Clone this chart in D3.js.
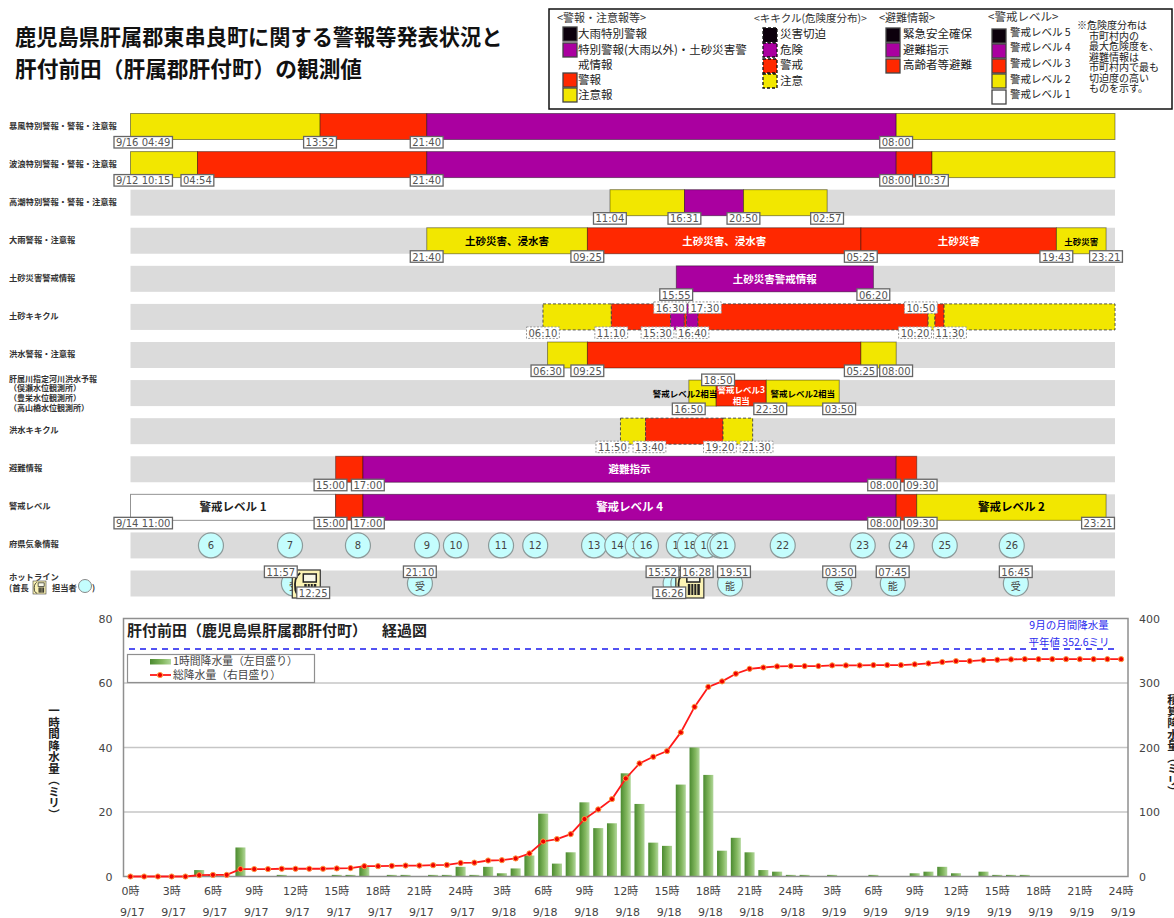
<!DOCTYPE html>
<html lang="ja">
<head>
<meta charset="utf-8">
<script src="https://cdn.jsdelivr.net/npm/d3@7"></script>
<style>
  html, body { margin: 0; padding: 0; background: #fff; overflow: hidden; }
  svg { display: block; font-family: "Noto Sans CJK JP", "Noto Sans", sans-serif; }
  .num { font-family: "DejaVu Sans", sans-serif; }
</style>
</head>
<body>
<div id="canvas"></div>
<script>
"use strict"

let svgWidth = 1174;
let svgHeight = 918;

/* Timeline rows */
const rowNames = ["暴風", "波浪", "高潮", "大雨", "土砂情報", "土砂キキクル", "洪水", "河川", "洪水キキクル", "避難", "レベル", "府県", "ホットライン"];

const rowLabels = [
    ["暴風特別警報・警報・注意報"],
    ["波浪特別警報・警報・注意報"],
    ["高潮特別警報・警報・注意報"],
    ["大雨警報・注意報"],
    ["土砂災害警戒情報"],
    ["土砂キキクル"],
    ["洪水警報・注意報"],
    ["肝属川指定河川洪水予報", "（俣瀬水位観測所）", "（豊栄水位観測所）", "（高山橋水位観測所）"],
    ["洪水キキクル"],
    ["避難情報"],
    ["警戒レベル"],
    ["府県気象情報"]
];

/* [start, end, class, text] */
const stormSegs = [
    ["9/16 04:49", "9/17 13:52", "y"],
    ["9/17 13:52", "9/17 21:40", "r"],
    ["9/17 21:40", "9/19 08:00", "p"],
    ["9/19 08:00", "9/20 00:00", "y"]
];
const waveSegs = [
    ["9/12 10:15", "9/17 04:54", "y"],
    ["9/17 04:54", "9/17 21:40", "r"],
    ["9/17 21:40", "9/19 08:00", "p"],
    ["9/19 08:00", "9/19 10:37", "r"],
    ["9/19 10:37", "9/20 00:00", "y"]
];
const surgeSegs = [
    ["9/18 11:04", "9/18 16:31", "y"],
    ["9/18 16:31", "9/18 20:50", "p"],
    ["9/18 20:50", "9/19 02:57", "y"]
];
const heavyRainSegs = [
    ["9/17 21:40", "9/18 09:25", "y", "土砂災害、浸水害"],
    ["9/18 09:25", "9/19 05:25", "r", "土砂災害、浸水害"],
    ["9/19 05:25", "9/19 19:43", "r", "土砂災害"],
    ["9/19 19:43", "9/19 23:21", "y", "土砂災害"]
];
const landslideSegs = [
    ["9/18 15:55", "9/19 06:20", "p", "土砂災害警戒情報"]
];
const landKikikuruSegs = [
    ["9/18 06:10", "9/18 11:10", "y"],
    ["9/18 11:10", "9/18 15:30", "r"],
    ["9/18 15:30", "9/18 16:30", "p"],
    ["9/18 16:30", "9/18 16:40", "r"],
    ["9/18 16:40", "9/18 17:30", "p"],
    ["9/18 17:30", "9/19 10:20", "r"],
    ["9/19 10:20", "9/19 10:50", "y"],
    ["9/19 10:50", "9/19 11:30", "r"],
    ["9/19 11:30", "9/20 00:00", "y"]
];
const floodSegs = [
    ["9/18 06:30", "9/18 09:25", "y"],
    ["9/18 09:25", "9/19 05:25", "r"],
    ["9/19 05:25", "9/19 08:00", "y"]
];
const riverSegs = [
    ["9/18 16:50", "9/18 18:50", "y", "警戒レベル2相当"],
    ["9/18 18:50", "9/18 22:30", "r", "警戒レベル3|相当"],
    ["9/18 22:30", "9/19 03:50", "y", "警戒レベル2相当"]
];
const floodKikikuruSegs = [
    ["9/18 11:50", "9/18 13:40", "y"],
    ["9/18 13:40", "9/18 19:20", "r"],
    ["9/18 19:20", "9/18 21:30", "y"]
];
const evacSegs = [
    ["9/17 15:00", "9/17 17:00", "r"],
    ["9/17 17:00", "9/19 08:00", "p", "避難指示"],
    ["9/19 08:00", "9/19 09:30", "r"]
];
const levelSegs = [
    ["9/14 11:00", "9/17 15:00", "w", "警戒レベル 1"],
    ["9/17 15:00", "9/17 17:00", "r"],
    ["9/17 17:00", "9/19 08:00", "p", "警戒レベル 4"],
    ["9/19 08:00", "9/19 09:30", "r"],
    ["9/19 09:30", "9/19 23:21", "y", "警戒レベル 2"]
];
const rowSegs = [stormSegs, waveSegs, surgeSegs, heavyRainSegs, landslideSegs, landKikikuruSegs, floodSegs, riverSegs, floodKikikuruSegs, evacSegs, levelSegs];

/* 府県気象情報 */
const infoNumbers = [6, 7, 8, 9, 10, 11, 12, 13, 14, 15, 16, 17, 18, 19, 20, 21, 22, 23, 24, 25, 26];
const infoTimes = ["9/17 05:53", "9/17 11:40", "9/17 16:38", "9/17 21:41", "9/17 23:48", "9/18 03:06", "9/18 05:36",
    "9/18 09:54", "9/18 11:36", "9/18 13:06", "9/18 13:42", "9/18 16:06", "9/18 16:54", "9/18 18:09", "9/18 19:06",
    "9/18 19:18", "9/18 23:42", "9/19 05:33", "9/19 08:24", "9/19 11:33", "9/19 16:27"];

/* ホットライン */
const hotCircleTimes = ["9/17 11:57", "9/17 21:10", "9/18 15:52", "9/18 16:26", "9/18 19:51", "9/19 03:50", "9/19 07:45", "9/19 16:45"];
const hotCircleText = ["受", "受", "", "", "能", "受", "能", "受"];
const hotIconTimes = ["9/17 12:25", "9/18 16:28"];

/* Rainfall, hour 0 = 9/17 0時 */
const rainHourly = [0, 0, 0, 0, 0, 2, 0.5, 0, 9, 0,
    0, 0.5, 0, 0, 0, 0.5, 0.5, 3, 0, 0.5,
    0.5, 0, 0.5, 0.5, 3, 0.5, 3, 1, 2.5, 6.5,
    19.5, 4, 7.5, 23, 15, 16.5, 32, 22.5, 10.5, 9.5,
    28.5, 40, 31.5, 8, 12, 7.5, 2, 1.5, 0.5, 0.5,
    0, 0.5, 0, 0, 0.5, 0, 0, 1, 1.5, 3,
    1, 0, 1.5, 0.5, 0.5, 0.5, 0, 0, 0, 0, 0, 0, 0];
const rainTotal = [0, 0, 0, 0, 0, 2, 2.5, 2.5, 11.5, 11.5,
    11.5, 12, 12, 12, 12, 12.5, 13, 16, 16, 16.5,
    17, 17, 17.5, 18, 21, 21.5, 24.8, 25.3, 28, 35.7,
    54.3, 58, 65.7, 89, 104, 120, 152, 175.3, 185.6, 194.4,
    223.4, 263, 294, 302.5, 314.4, 322, 324, 325.7, 326.3, 326.3,
    326.3, 327.3, 327.3, 327.3, 327.8, 327.8, 327.8, 329, 330.4, 332.5,
    334, 334, 335.6, 336, 336.6, 337, 337, 337, 337, 337, 337, 337, 337];
const monthlyNormal = 352.6;
const tickHours = d3.range(0, 73, 3);
const tickHourText = ["0時", "3時", "6時", "9時", "12時", "15時", "18時", "21時", "24時",
    "3時", "6時", "9時", "12時", "15時", "18時", "21時", "24時",
    "3時", "6時", "9時", "12時", "15時", "18時", "21時", "24時"];
const tickDateText = ["9/17", "9/17", "9/17", "9/17", "9/17", "9/17", "9/17", "9/17", "9/17",
    "9/18", "9/18", "9/18", "9/18", "9/18", "9/18", "9/18", "9/18",
    "9/19", "9/19", "9/19", "9/19", "9/19", "9/19", "9/19", "9/19"];
const leftTicks = [0, 20, 40, 60, 80];
const rightTicks = [0, 100, 200, 300, 400];

/* Legend text */
const legendWarn = ["大雨特別警報", "特別警報(大雨以外)・土砂災害警", "警報", "注意報"];
const legendKiki = ["災害切迫", "危険", "警戒", "注意"];
const legendEvac = ["緊急安全確保", "避難指示", "高齢者等避難"];
const legendLevel = ["警戒レベル 5", "警戒レベル 4", "警戒レベル 3", "警戒レベル 2", "警戒レベル 1"];
const legendNote = ["※危険度分布は", "市町村内の", "最大危険度を、", "避難情報は", "市町村内で最も", "切迫度の高い", "ものを示す。"];

/* Colours */
const classColor = {k: "#0c000c", p: "#aa00a0", r: "#ff2800", y: "#f2e700", w: "#ffffff"};
const classText = {p: "#ffffff", r: "#ffffff", y: "#000000", w: "#222222"};

/* Label nudges so time boxes do not sit on each other: "row|time": [dx, up] */
const labelNudge = {
    "土砂キキクル|9/18 15:30": [-13, 0],
    "土砂キキクル|9/18 16:30": [-14, 1],
    "土砂キキクル|9/18 16:40": [6, 0],
    "土砂キキクル|9/18 17:30": [7, 1],
    "土砂キキクル|9/19 10:20": [-13, 0],
    "土砂キキクル|9/19 10:50": [-14, 1],
    "土砂キキクル|9/19 11:30": [6, 0],
    "河川|9/18 18:50": [2, 1],
    "河川|9/18 22:30": [4, 0],
    "洪水キキクル|9/18 11:50": [-8, 0],
    "洪水キキクル|9/18 13:40": [4, 0],
    "洪水キキクル|9/18 19:20": [-3, 0],
    "洪水キキクル|9/18 21:30": [4, 0],
    "避難|9/17 15:00": [-5, 0],
    "避難|9/17 17:00": [5, 0],
    "避難|9/19 08:00": [-12, 0],
    "避難|9/19 09:30": [4, 0],
    "レベル|9/17 15:00": [-5, 0],
    "レベル|9/17 17:00": [5, 0],
    "レベル|9/19 08:00": [-12, 0],
    "レベル|9/19 09:30": [4, 0],
    "レベル|9/19 23:21": [-8, 0]
};

let svg = d3.select("#canvas")
    .append("svg")
    .attr("width", svgWidth)
    .attr("height", svgHeight);

/* Title */
svg.append("text").attr("x", 15).attr("y", 45).attr("font-size", 21.2).attr("font-weight", 700).attr("fill", "#111")
    .text("鹿児島県肝属郡東串良町に関する警報等発表状況と");
svg.append("text").attr("x", 15).attr("y", 77).attr("font-size", 21.7).attr("font-weight", 700).attr("fill", "#111")
    .text("肝付前田（肝属郡肝付町）の観測値");

/* Legend box */
svg.append("rect")
    .attr("x", 549).attr("y", 9).attr("width", 623).attr("height", 100)
    .attr("fill", "#fff").attr("stroke", "#111").attr("stroke-width", 1.5);

function legendHead(x, y, label, size) {
    svg.append("text").attr("x", x).attr("y", y).attr("font-size", size).attr("fill", "#333").text(label);
}
function legendItem(sx, sy, tx, ty, label, cls, dashed, size) {
    svg.append("rect").attr("x", sx).attr("y", sy - 7).attr("width", 14).attr("height", 14)
        .attr("fill", classColor[cls]).attr("stroke", dashed ? "#111" : "#444").attr("stroke-width", 1.3)
        .attr("stroke-dasharray", dashed ? "3,2" : null);
    svg.append("text").attr("x", tx).attr("y", ty).attr("font-size", size || 11.5).attr("fill", "#222").text(label);
}
legendHead(557, 22, "<警報・注意報等>", 11);
legendItem(563, 34, 578, 38, legendWarn[0], "k");
legendItem(563, 50, 578, 54, legendWarn[1], "p");
svg.append("text").attr("x", 578).attr("y", 69).attr("font-size", 11.5).attr("fill", "#222").text("戒情報");
legendItem(563, 80, 578, 84, legendWarn[2], "r");
legendItem(563, 95, 578, 99, legendWarn[3], "y");
legendHead(754, 22, "<キキクル(危険度分布)>", 10.5);
legendItem(763, 35, 780, 38, legendKiki[0], "k", true);
legendItem(763, 50, 780, 54, legendKiki[1], "p", true);
legendItem(763, 66, 780, 69, legendKiki[2], "r", true);
legendItem(763, 81, 780, 85, legendKiki[3], "y", true);
legendHead(879, 22, "<避難情報>", 11);
legendItem(886, 35, 903, 38, legendEvac[0], "k");
legendItem(886, 50, 903, 54, legendEvac[1], "p");
legendItem(886, 66, 903, 69, legendEvac[2], "r");
legendHead(988, 21, "<警戒レベル>", 11.5);
legendItem(992, 36, 1010, 36, legendLevel[0], "k", false, 10.5);
legendItem(992, 51, 1010, 51, legendLevel[1], "p", false, 10.5);
legendItem(992, 66, 1010, 67, legendLevel[2], "r", false, 10.5);
legendItem(992, 81, 1010, 83, legendLevel[3], "y", false, 10.5);
legendItem(992, 97, 1010, 98, legendLevel[4], "w", false, 10.5);
legendNote.forEach(function (line, i) {
    svg.append("text")
        .attr("x", i == 0 ? 1077 : 1089)
        .attr("y", 29 + i * 10.5)
        .attr("font-size", 10)
        .attr("fill", "#222")
        .text(line);
});

/* Timeline scales */
const parseTime = d3.timeParse("%m/%d %H:%M");
const formatLong = d3.timeFormat("%-m/%-d %H:%M");
const formatShort = d3.timeFormat("%H:%M");
const domainStart = parseTime("9/17 00:00");
const domainEnd = parseTime("9/20 00:00");

let timeScale = d3.scaleTime()
    .domain([domainStart, domainEnd])
    .range([130.5, 1115])
    .clamp(true);

let rowScale = d3.scalePoint()
    .domain(rowNames)
    .range([113.5, 570.5]);

let rowHeight = 26;

/* Grey row backgrounds */
svg.selectAll("rect.rowBg")
    .data(rowNames)
    .join("rect")
    .attr("class", "rowBg")
    .attr("x", timeScale.range()[0])
    .attr("y", function (d) { return rowScale(d); })
    .attr("width", timeScale.range()[1] - timeScale.range()[0])
    .attr("height", rowHeight)
    .attr("fill", "#dbdbdb");

/* Row titles */
rowLabels.forEach(function (lines, i) {
    let cy = rowScale(rowNames[i]) + rowHeight / 2;
    lines.forEach(function (line, j) {
        svg.append("text")
            .attr("x", 9)
            .attr("y", lines.length > 1 ? cy - 11.5 + j * 9.7 : cy + 2)
            .attr("font-size", lines.length > 1 ? 8 : 8.3)
            .attr("font-weight", 700)
            .attr("fill", "#333")
            .text(line);
    });
});
svg.append("text").attr("x", 9).attr("y", 580).attr("font-size", 8.3).attr("font-weight", 700).attr("fill", "#333").text("ホットライン");
svg.append("text").attr("x", 9).attr("y", 591).attr("font-size", 8.3).attr("font-weight", 700).attr("fill", "#333").text("(首長");
svg.append("text").attr("x", 52).attr("y", 591).attr("font-size", 8.3).attr("font-weight", 700).attr("fill", "#333").text("担当者");
svg.append("circle").attr("cx", 85).attr("cy", 586).attr("r", 6.5).attr("fill", "#c4fdfd").attr("stroke", "#888");
svg.append("text").attr("x", 92).attr("y", 591).attr("font-size", 8.3).attr("font-weight", 700).attr("fill", "#333").text(")");

/* Head-of-town phone icon */
function drawIcon(g, x, y, w, h) {
    let ig = g.append("g").attr("transform", "translate(" + x + "," + y + ") scale(" + w / 28 + "," + h / 28 + ")");
    ig.append("rect").attr("width", 28).attr("height", 28).attr("fill", "#fbf3b4").attr("stroke", "#333").attr("stroke-width", 1.2);
    ig.append("path").attr("d", "M8 3 C3 6 2 12 3 20 C4 24 6 26 9 26").attr("fill", "none").attr("stroke", "#222").attr("stroke-width", 1.8);
    ig.append("rect").attr("x", 11).attr("y", 4).attr("width", 13).attr("height", 8).attr("fill", "#f8f8e8").attr("stroke", "#222").attr("stroke-width", 1.5);
    ig.append("rect").attr("x", 12).attr("y", 14).attr("width", 12).attr("height", 11).attr("fill", "#222");
    [15, 18, 21].forEach(function (bx) {
        ig.append("line").attr("x1", bx).attr("x2", bx).attr("y1", 14).attr("y2", 25).attr("stroke", "#fbf3b4");
    });
}
drawIcon(svg, 33, 581, 13, 13);

/* Bars: a group per timeline row, then time boxes on top */
let labelLayer = [];

rowSegs.forEach(function (segs, i) {
    let name = rowNames[i];
    let top = rowScale(name);
    let dashed = name.indexOf("キキクル") >= 0;

    svg.selectAll("rect.seg" + i)
        .data(segs)
        .join("rect")
        .attr("class", "seg" + i)
        .attr("x", function (d) { return timeScale(parseTime(d[0])); })
        .attr("y", top)
        .attr("width", function (d) { return timeScale(parseTime(d[1])) - timeScale(parseTime(d[0])); })
        .attr("height", rowHeight)
        .attr("fill", function (d) { return classColor[d[2]]; })
        .attr("stroke", dashed ? "#444" : "#000")
        .attr("stroke-opacity", dashed ? 0.9 : 0.4)
        .attr("stroke-dasharray", dashed ? "3,2" : null);

    /* text inside a bar */
    segs.filter(function (d) { return d[3]; }).forEach(function (d) {
        let x0 = timeScale(parseTime(d[0]));
        let x1 = timeScale(parseTime(d[1]));
        let small = name == "河川" || (name == "大雨" && x1 - x0 < 60);
        let lines = d[3].split("|");
        let onRiverLeft = name == "河川" && parseTime(d[0]).getTime() == parseTime("9/18 16:50").getTime();
        lines.forEach(function (line, j) {
            svg.append("text")
                .attr("x", onRiverLeft ? x1 + 1 : (x0 + x1) / 2)
                .attr("y", top + rowHeight / 2 + (lines.length > 1 ? j * 10.5 : 4))
                .attr("text-anchor", onRiverLeft ? "end" : "middle")
                .attr("font-size", small ? 8.5 : (name == "大雨" || name == "避難" || name == "土砂情報" ? 10.5 : 11.5))
                .attr("font-weight", 700)
                .attr("fill", classText[d[2]])
                .text(line);
        });
    });

    /* a time box at every start and at the final end, unless the bar runs off the chart */
    let times = segs.map(function (d) { return d[0]; });
    let last = segs[segs.length - 1][1];
    if (parseTime(last) < domainEnd) {
        times.push(last);
    }
    times.forEach(function (t) {
        let nudge = labelNudge[name + "|" + t] || [0, 0];
        labelLayer.push({
            time: t,
            dx: nudge[0],
            y: nudge[1] ? top - (name == "河川" ? 6 : 2) : top + rowHeight - 3,
            dashed: dashed
        });
    });
});

/* 府県気象情報 circles: each one drawn with its number, later ones cover earlier ones */
let infoCy = rowScale("府県") + rowHeight / 2;
let infoMarks = svg.selectAll("g.info")
    .data(infoTimes)
    .join("g")
    .attr("class", "info");
infoMarks.append("circle")
    .attr("cx", function (d) { return timeScale(parseTime(d)); })
    .attr("cy", infoCy)
    .attr("r", 12.5)
    .attr("fill", "#c4fdfd")
    .attr("stroke", "#8d9a9a")
    .attr("stroke-width", 1.2);
infoMarks.append("text")
    .attr("class", "num")
    .attr("x", function (d) { return timeScale(parseTime(d)); })
    .attr("y", infoCy + 4)
    .attr("text-anchor", "middle")
    .attr("font-size", 10)
    .attr("fill", "#444")
    .text(function (d, i) { return infoNumbers[i]; });

/* ホットライン circles, icons and boxes */
let hotY = rowScale("ホットライン") + 13;
let hotMarks = svg.selectAll("g.hot")
    .data(hotCircleTimes)
    .join("g")
    .attr("class", "hot");
hotMarks.append("circle")
    .attr("cx", function (d) { return timeScale(parseTime(d)); })
    .attr("cy", hotY)
    .attr("r", 12.5)
    .attr("fill", "#c4fdfd")
    .attr("stroke", "#8d9a9a")
    .attr("stroke-width", 1.2);
hotMarks.append("text")
    .attr("x", function (d) { return timeScale(parseTime(d)); })
    .attr("y", hotY + 6)
    .attr("text-anchor", "middle")
    .attr("font-size", 10)
    .attr("fill", "#444")
    .text(function (d, i) { return hotCircleText[i]; });
hotIconTimes.forEach(function (t) {
    drawIcon(svg, timeScale(parseTime(t)) - 8, 570, 28, 28);
});

const hotNudge = {
    "9/17 11:57": [-13, 566], "9/17 12:25": [13, 587], "9/17 21:10": [0, 566],
    "9/18 15:52": [-13, 566], "9/18 16:26": [-14, 587], "9/18 16:28": [13, 566],
    "9/18 19:51": [4, 566], "9/19 03:50": [0, 566], "9/19 07:45": [0, 566], "9/19 16:45": [0, 566]
};
hotCircleTimes.concat(hotIconTimes).forEach(function (t) {
    labelLayer.push({time: t, dx: hotNudge[t][0], y: hotNudge[t][1], dashed: false});
});

/* Time boxes. Left edge sits half a short box before the time, so long stamps grow to the right */
let boxes = svg.selectAll("g.timeBox")
    .data(labelLayer)
    .join("g")
    .attr("class", "timeBox");

boxes.each(function (d) {
    let g = d3.select(this);
    let date = parseTime(d.time);
    let label = date < domainStart ? formatLong(date) : formatShort(date);
    let left = timeScale(date) + d.dx - 16.5;
    let rect = g.append("rect")
        .attr("x", left)
        .attr("y", d.y)
        .attr("height", 11.5)
        .attr("fill", "#fff")
        .attr("stroke", d.dashed ? "#999" : "#666")
        .attr("stroke-width", d.dashed ? 1 : 1.3)
        .attr("stroke-dasharray", d.dashed ? "2,1.5" : null);
    let text = g.append("text")
        .attr("class", "num")
        .attr("x", left + 2)
        .attr("y", d.y + 9.8)
        .attr("font-size", 10)
        .attr("fill", "#555")
        .text(label);
    rect.attr("width", text.node().getComputedTextLength() + 4);
});

/* Rain chart */
let plot = {left: 123.5, right: 1128, top: 618.5, bottom: 876.5};

let xScale = d3.scaleBand()
    .domain(d3.range(rainHourly.length))
    .range([plot.left, plot.right])
    .paddingInner(0.27)
    .paddingOuter(0.135);

let yLeft = d3.scaleLinear().domain([0, 80]).range([plot.bottom, plot.top]);
let yRight = d3.scaleLinear().domain([0, 400]).range([plot.bottom, plot.top]);

let defs = svg.append("defs");
let grad = defs.append("linearGradient").attr("id", "barGrad");
grad.append("stop").attr("offset", "0%").attr("stop-color", "#4b8a30");
grad.append("stop").attr("offset", "60%").attr("stop-color", "#84b860");
grad.append("stop").attr("offset", "100%").attr("stop-color", "#b2d79c");

/* Grid */
svg.selectAll("line.grid")
    .data(leftTicks.slice(1, -1))
    .join("line")
    .attr("class", "grid")
    .attr("x1", plot.left).attr("x2", plot.right)
    .attr("y1", function (d) { return yLeft(d); })
    .attr("y2", function (d) { return yLeft(d); })
    .attr("stroke", "#c6c6c6")
    .attr("stroke-width", 1.3);

/* Bars */
svg.selectAll("rect.rainBar")
    .data(rainHourly)
    .join("rect")
    .attr("class", "rainBar")
    .attr("x", function (d, i) { return xScale(i); })
    .attr("y", function (d) { return yLeft(d); })
    .attr("width", xScale.bandwidth())
    .attr("height", function (d) { return yLeft(0) - yLeft(d); })
    .attr("fill", "url(#barGrad)");

/* Plot border */
svg.append("rect")
    .attr("x", plot.left).attr("y", plot.top)
    .attr("width", plot.right - plot.left).attr("height", plot.bottom - plot.top)
    .attr("fill", "none")
    .attr("stroke", "#8f8f8f")
    .attr("stroke-width", 1.5);

/* Axes */
let axisLeft = svg.append("g")
    .attr("class", "num")
    .attr("transform", "translate(" + plot.left + ",0)")
    .call(d3.axisLeft(yLeft).tickValues(leftTicks).tickSize(0).tickPadding(11));
let axisRight = svg.append("g")
    .attr("class", "num")
    .attr("transform", "translate(" + plot.right + ",0)")
    .call(d3.axisRight(yRight).tickValues(rightTicks).tickSize(0).tickPadding(11));
let axisBottom = svg.append("g")
    .attr("class", "num")
    .attr("transform", "translate(0," + plot.bottom + ")")
    .call(d3.axisBottom(xScale).tickValues(tickHours).tickSize(0).tickPadding(11)
        .tickFormat(function (d, i) { return tickHourText[i]; }));
[axisLeft, axisRight, axisBottom].forEach(function (a) {
    a.select(".domain").remove();
    a.selectAll("text").attr("font-size", 11).attr("fill", "#444").attr("font-family", "\"DejaVu Sans\", \"Noto Sans CJK JP\", sans-serif");
});
axisBottom.selectAll(".tick").each(function (d, i) {
    d3.select(this).append("text")
        .attr("y", 39)
        .attr("x", 2)
        .attr("text-anchor", "middle")
        .attr("font-size", 11)
        .attr("fill", "#444")
        .text(tickDateText[i]);
});

/* Normal line */
svg.append("line")
    .attr("x1", 129).attr("x2", 1117)
    .attr("y1", yRight(monthlyNormal)).attr("y2", yRight(monthlyNormal))
    .attr("stroke", "#1a1aee")
    .attr("stroke-width", 1.6)
    .attr("stroke-dasharray", "6,5");

/* Total line */
let lineGen = d3.line()
    .x(function (d, i) { return xScale(i) + xScale.bandwidth() / 2; })
    .y(function (d) { return yRight(d); });

svg.append("path")
    .attr("d", lineGen(rainTotal))
    .attr("fill", "none")
    .attr("stroke", "#ff1a1a")
    .attr("stroke-width", 1.8);

svg.selectAll("circle.totalDot")
    .data(rainTotal)
    .join("circle")
    .attr("class", "totalDot")
    .attr("cx", function (d, i) { return xScale(i) + xScale.bandwidth() / 2; })
    .attr("cy", function (d) { return yRight(d); })
    .attr("r", 2.6)
    .attr("fill", "#f00000")
    .attr("stroke", "#ff9a40")
    .attr("stroke-width", 1);

/* Chart title and notes */
svg.append("text").attr("x", 127).attr("y", 636).attr("font-size", 15).attr("font-weight", 700).attr("fill", "#222")
    .text("肝付前田（鹿児島県肝属郡肝付町）");
svg.append("text").attr("x", 382).attr("y", 636).attr("font-size", 15).attr("font-weight", 700).attr("fill", "#222")
    .text("経過図");
svg.append("text").attr("x", 1069).attr("y", 629).attr("text-anchor", "middle").attr("font-size", 10.5).attr("fill", "#2a2aee")
    .text("9月の月間降水量");
svg.append("text").attr("x", 1069).attr("y", 646).attr("text-anchor", "middle").attr("font-size", 10.5).attr("fill", "#2a2aee")
    .text("平年値 " + monthlyNormal + "ミリ");

/* Chart legend */
svg.append("rect").attr("x", 127.5).attr("y", 654.5).attr("width", 187).attr("height", 28)
    .attr("fill", "#fff").attr("stroke", "#8f8f8f").attr("stroke-width", 1.2);
svg.append("rect").attr("x", 150).attr("y", 659).attr("width", 21).attr("height", 5.5).attr("fill", "url(#barGrad)");
svg.append("text").attr("x", 173).attr("y", 665).attr("font-size", 10.8).attr("fill", "#444").text("1時間降水量（左目盛り）");
svg.append("line").attr("x1", 150).attr("x2", 171).attr("y1", 675).attr("y2", 675).attr("stroke", "#ff1a1a").attr("stroke-width", 1.8);
svg.append("circle").attr("cx", 160).attr("cy", 675).attr("r", 2.6).attr("fill", "#f00000").attr("stroke", "#ff9a40");
svg.append("text").attr("x", 173).attr("y", 679).attr("font-size", 10.8).attr("fill", "#444").text("総降水量（右目盛り）");

/* Vertical axis titles */
svg.append("text")
    .attr("x", 54).attr("y", 705)
    .style("writing-mode", "vertical-rl")
    .attr("font-size", 11.5)
    .attr("font-weight", 700)
    .attr("fill", "#222")
    .text("一時間降水量（ミリ）");
svg.append("text")
    .attr("x", 1173).attr("y", 694)
    .style("writing-mode", "vertical-rl")
    .attr("font-size", 11.5)
    .attr("font-weight", 700)
    .attr("fill", "#222")
    .text("積算降水量（ミリ）");
</script>
</body>
</html>
